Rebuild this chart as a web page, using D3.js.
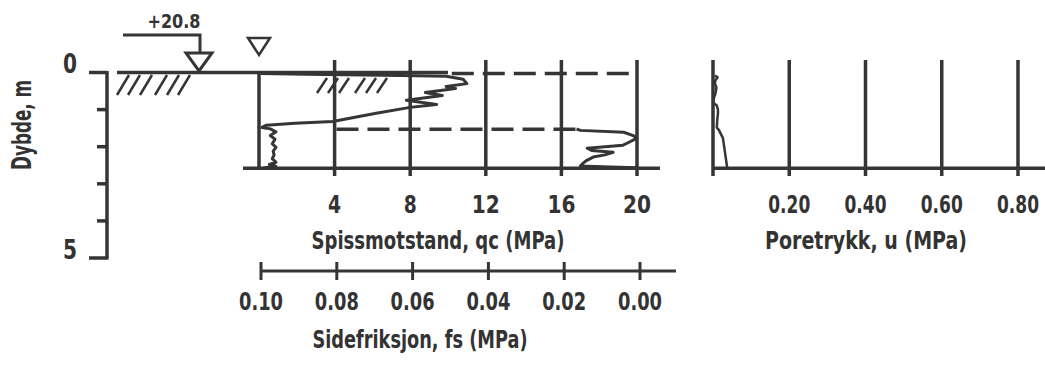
<!DOCTYPE html>
<html>
<head>
<meta charset="utf-8">
<script src="https://cdn.jsdelivr.net/npm/d3@7/dist/d3.min.js"></script>
<style>
  html, body { margin: 0; padding: 0; background: #fff; }
  svg { display: block; }
  text { font-family: "DejaVu Sans Condensed", "DejaVu Sans", sans-serif; font-weight: bold; fill: #333; }
</style>
</head>
<body>
<svg id="chart" width="1045" height="365"></svg>
<script>
// CPT sounding: tip resistance, sleeve friction and pore pressure vs depth

const depthTicks = [0, 1, 2, 3, 4, 5];
const depthLabels = [0, 5];
const qcTicks = [4, 8, 12, 16, 20];
const fsTicks = [0.10, 0.08, 0.06, 0.04, 0.02, 0.00];
const uTicks = [0.20, 0.40, 0.60, 0.80];

const groundLevel = "+20.8";
const soundingDepth = 2.58;
const layerBoundaries = [0, 1.53];

// Tip resistance qc (MPa)
const qcDepth = [0.03, 0.05, 0.06, 0.08, 0.10, 0.18, 0.30, 0.38, 0.43, 0.54, 0.62, 0.75, 0.86, 0.94, 1.10, 1.32, 1.37, 1.42, 1.48,
                 1.52, 1.60, 1.70, 1.80, 1.92, 2.02, 2.12, 2.22, 2.32, 2.42, 2.48, 2.53, 2.56, 2.58];
const qcValue = [0.1, 2.5, 4.5, 7.5, 9.9, 10.8, 11.0, 9.9, 10.4, 8.8, 9.7, 7.8, 9.4, 8.0, 6.2, 3.9, 1.9, 0.4, 0.15,
                 0.6, 0.9, 0.6, 0.85, 0.7, 0.9, 0.75, 0.8, 0.7, 0.9, 0.55, 0.9, 0.4, 0.2];

// Sleeve friction fs (MPa)
const fsDepth = [1.52, 1.56, 1.61, 1.70, 1.77, 1.90, 1.96, 2.04, 2.10, 2.15, 2.22, 2.28, 2.38, 2.45, 2.52, 2.55, 2.57];
const fsValue = [0.016, 0.015, 0.0035, 0.001, 0.0, 0.0025, 0.0037, 0.0132, 0.0120, 0.0063, 0.0085, 0.0116, 0.0135, 0.0143, 0.0150, 0.0070, 0.0];

// Pore pressure u (MPa)
const uDepth = [0.08, 0.13, 0.22, 0.30, 0.40, 0.48, 0.58, 0.67, 0.81, 0.89, 1.00, 1.10, 1.30, 1.48, 1.56, 1.77, 2.55];
const uValue = [0.005, 0.012, 0.006, 0.005, 0.009, 0.008, 0.006, 0.003, 0.0, 0.010, 0.013, 0.013, 0.011, 0.010, 0.016, 0.026, 0.037];

const ink = "#353535";
const svg = d3.select("#chart");

const y = d3.scaleLinear().domain([0, 5]).range([72.5, 258]);
const xQc = d3.scaleLinear().domain([0, 20]).range([259, 637]);
const xFs = d3.scaleLinear().domain([0.10, 0]).range([259, 637]);
const xFsAxis = d3.scaleLinear().domain([0.10, 0]).range([261, 640]);
const xU = d3.scaleLinear().domain([0, 0.8]).range([713, 1018]);

const gridTop = 60, gridBottom = 176;
const fmt2 = d3.format(".2f");

function line(g, x1, y1, x2, y2, w, dash) {
  const l = g.append("line").attr("x1", x1).attr("y1", y1).attr("x2", x2).attr("y2", y2)
    .attr("stroke", ink).attr("stroke-width", w).attr("stroke-linecap", "butt");
  if (dash) l.attr("stroke-dasharray", dash);
  return l;
}

// ---- Depth axis ----
const dAx = svg.append("g");
line(dAx, 107, y(0) - 1.5, 107, y(5) + 1.5, 3.5);
depthTicks.forEach(d => {
  const long = depthLabels.includes(d);
  line(dAx, long ? 89 : 97, y(d), 107, y(d), 3.5);
});
dAx.selectAll("text.dl").data(depthLabels).join("text")
  .attr("x", 77).attr("y", d => y(d) + 0.5)
  .attr("text-anchor", "end").attr("font-size", 26)
  .attr("textLength", 14).attr("lengthAdjust", "spacingAndGlyphs")
  .text(d => d);
svg.append("text")
  .attr("transform", "translate(31,125) rotate(-90)")
  .attr("text-anchor", "middle").attr("font-size", 26)
  .attr("textLength", 90).attr("lengthAdjust", "spacingAndGlyphs")
  .text("Dybde, m");

// ---- Ground surface with hatching ----
const gnd = svg.append("g");
line(gnd, 117, y(0), xQc(10), y(0), 3.5);
[117, 128, 140, 155, 167, 178].forEach(x0 => line(gnd, x0, 95, x0 + 12, 75, 2.5));

// Ground level marker
gnd.append("path")
  .attr("d", "M123,35 H200 V53")
  .attr("fill", "none").attr("stroke", ink).attr("stroke-width", 3);
gnd.append("path")
  .attr("d", "M186,53 L212,53 L199,71 Z")
  .attr("fill", "#fff").attr("stroke", ink).attr("stroke-width", 3);
gnd.append("text")
  .attr("x", 174).attr("y", 28).attr("text-anchor", "middle").attr("font-size", 20)
  .attr("textLength", 53).attr("lengthAdjust", "spacingAndGlyphs")
  .text(groundLevel);

// Water level marker
gnd.append("path")
  .attr("d", "M248,38 L270,38 L259,55 Z")
  .attr("fill", "#fff").attr("stroke", ink).attr("stroke-width", 2.5);

// ---- qc / fs panel ----
const pq = svg.append("g");
qcTicks.forEach(v => line(pq, xQc(v), gridTop, xQc(v), gridBottom, 3.5));
line(pq, xQc(0), y(0), xQc(0), y(soundingDepth), 3.5);
line(pq, 243, y(soundingDepth), 660, y(soundingDepth), 3.5);
// layer boundaries (dashed)
line(pq, xQc(10.2), y(layerBoundaries[0]) + 1, xQc(20), y(layerBoundaries[0]) + 1, 3.5, "22,9");
line(pq, xQc(4.1), y(layerBoundaries[1]), xQc(17), y(layerBoundaries[1]), 3.5, "22,9");
// hatching
[317, 328, 339, 355, 366, 377].forEach(x0 => line(pq, x0, 93, x0 + 10, 78, 2.5));

const qcLine = d3.line().x((d, i) => xQc(qcValue[i])).y(d => y(d));
pq.append("path").attr("d", qcLine(qcDepth))
  .attr("fill", "none").attr("stroke", ink).attr("stroke-width", 3).attr("stroke-linejoin", "round");
const fsLine = d3.line().x((d, i) => xFs(fsValue[i])).y(d => y(d));
pq.append("path").attr("d", fsLine(fsDepth))
  .attr("fill", "none").attr("stroke", ink).attr("stroke-width", 3).attr("stroke-linejoin", "round");

pq.selectAll("text.qt").data(qcTicks).join("text")
  .attr("x", d => xQc(d)).attr("y", 213).attr("text-anchor", "middle").attr("font-size", 24)
  .attr("textLength", d => String(d).length === 1 ? 13 : 28).attr("lengthAdjust", "spacingAndGlyphs")
  .text(d => d);
pq.append("text").attr("x", 438).attr("y", 249).attr("text-anchor", "middle").attr("font-size", 24)
  .attr("textLength", 253).attr("lengthAdjust", "spacingAndGlyphs")
  .text("Spissmotstand, qc (MPa)");

// fs axis
const fa = svg.append("g");
line(fa, 260, 271, 676, 271, 3);
fsTicks.forEach(v => line(fa, xFsAxis(v), 262, xFsAxis(v), 280, 3));
fa.selectAll("text.ft").data(fsTicks).join("text")
  .attr("x", d => xFsAxis(d)).attr("y", 310).attr("text-anchor", "middle").attr("font-size", 24)
  .attr("textLength", 44).attr("lengthAdjust", "spacingAndGlyphs")
  .text(d => fmt2(d));
fa.append("text").attr("x", 420).attr("y", 348).attr("text-anchor", "middle").attr("font-size", 24)
  .attr("textLength", 215).attr("lengthAdjust", "spacingAndGlyphs")
  .text("Sidefriksjon, fs (MPa)");

// ---- Pore pressure panel ----
const pu = svg.append("g");
line(pu, xU(0), gridTop, xU(0), gridBottom, 3.5);
uTicks.forEach(v => line(pu, xU(v), gridTop, xU(v), gridBottom, 3.5));
line(pu, xU(0), y(soundingDepth), 1045, y(soundingDepth), 3.5);
const uLine = d3.line().x((d, i) => xU(uValue[i])).y(d => y(d));
pu.append("path").attr("d", uLine(uDepth))
  .attr("fill", "none").attr("stroke", ink).attr("stroke-width", 2.5).attr("stroke-linejoin", "round");
pu.selectAll("text.ut").data(uTicks).join("text")
  .attr("x", d => xU(d)).attr("y", 213).attr("text-anchor", "middle").attr("font-size", 24)
  .attr("textLength", 42).attr("lengthAdjust", "spacingAndGlyphs")
  .text(d => fmt2(d));
pu.append("text").attr("x", 866).attr("y", 249).attr("text-anchor", "middle").attr("font-size", 24)
  .attr("textLength", 202).attr("lengthAdjust", "spacingAndGlyphs")
  .text("Poretrykk, u (MPa)");
</script>
</body>
</html>
